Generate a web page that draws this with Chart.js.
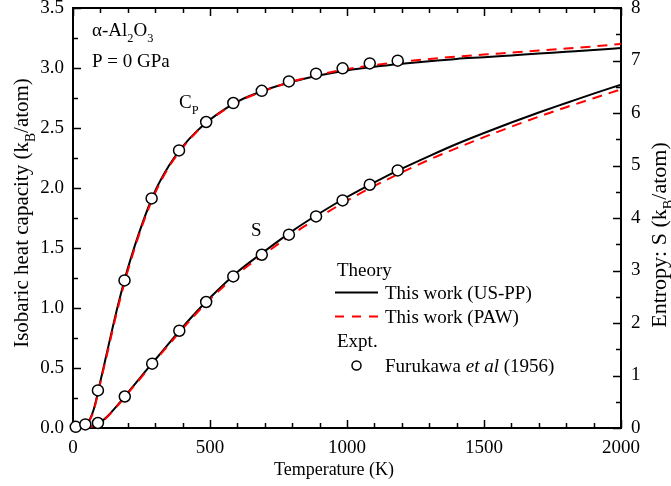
<!DOCTYPE html>
<html>
<head>
<meta charset="utf-8">
<script src="https://cdn.jsdelivr.net/npm/chart.js@4.4.1/dist/chart.umd.min.js"></script>
<style>
  html, body { margin: 0; padding: 0; background: #fff; }
  #wrap { width: 671px; height: 486px; position: relative; }
</style>
</head>
<body>
<div id="wrap"><canvas id="chart"></canvas></div>
<script>
// Theory curves (US-PP = black solid, PAW = red dashed)
const tempTheory = [0, 25, 50, 75, 100, 125, 150, 175, 200, 250, 300, 350, 400, 450, 500, 600, 700, 800, 900, 1000, 1100, 1200, 1300, 1400, 1500, 1600, 1700, 1800, 1900, 2000];
const cpUSPP = [0, 0.003, 0.03, 0.15, 0.39, 0.64, 0.89, 1.12, 1.33, 1.685, 1.975, 2.185, 2.345, 2.47, 2.57, 2.72, 2.815, 2.885, 2.94, 2.98, 3.01, 3.035, 3.057, 3.076, 3.09, 3.105, 3.12, 3.135, 3.15, 3.167];
const cpPAW  = [0, 0.003, 0.028, 0.14, 0.38, 0.62, 0.87, 1.10, 1.31, 1.67, 1.96, 2.175, 2.335, 2.465, 2.565, 2.715, 2.812, 2.887, 2.945, 2.99, 3.025, 3.052, 3.075, 3.095, 3.112, 3.128, 3.145, 3.162, 3.18, 3.20];
const sUSPP  = [0, 0.002, 0.012, 0.04, 0.11, 0.22, 0.36, 0.51, 0.67, 0.99, 1.30, 1.61, 1.92, 2.21, 2.48, 2.97, 3.37, 3.75, 4.09, 4.40, 4.68, 4.94, 5.18, 5.41, 5.62, 5.82, 6.01, 6.19, 6.37, 6.54];
const sPAW   = [0, 0.002, 0.011, 0.038, 0.105, 0.21, 0.35, 0.50, 0.66, 0.97, 1.28, 1.59, 1.89, 2.18, 2.45, 2.93, 3.32, 3.69, 4.02, 4.33, 4.61, 4.87, 5.11, 5.33, 5.54, 5.74, 5.93, 6.11, 6.28, 6.45];

// Furukawa et al (1956)
const cpExpT = [10, 45, 91, 188, 287, 387, 486, 585, 689, 788, 887, 984, 1083, 1185];
const cpExp  = [0.01, 0.03, 0.313, 1.23, 1.913, 2.313, 2.55, 2.708, 2.81, 2.888, 2.953, 2.997, 3.038, 3.061];
const sExpT  = [91, 189, 289, 388, 486, 585, 689, 788, 887, 984, 1083, 1185];
const sExp   = [0.095, 0.60, 1.225, 1.853, 2.40, 2.888, 3.30, 3.682, 4.03, 4.335, 4.634, 4.907];

// axis ticks
const xTicks = [0, 500, 1000, 1500, 2000];
const cpTicks = [0, 0.5, 1.0, 1.5, 2.0, 2.5, 3.0, 3.5];
const sTicks = [0, 1, 2, 3, 4, 5, 6, 7, 8];

const FONT = "'Liberation Serif', 'Times New Roman', serif";
const pts = (xs, ys) => xs.map((x, i) => ({ x, y: ys[i] }));

// text with sub / italic parts
function richWidth(ctx, parts, size) {
  let w = 0;
  parts.forEach(p => {
    ctx.font = `${p.it ? 'italic ' : ''}${p.sub ? size * 0.65 : size}px ${FONT}`;
    w += ctx.measureText(p.t).width;
  });
  return w;
}
function drawRich(ctx, parts, x, y, size) {
  let cx = x;
  ctx.textAlign = 'left';
  ctx.textBaseline = 'alphabetic';
  parts.forEach(p => {
    ctx.font = `${p.it ? 'italic ' : ''}${p.sub ? size * 0.65 : size}px ${FONT}`;
    ctx.fillText(p.t, cx, y + (p.sub ? size * 0.33 : 0));
    cx += ctx.measureText(p.t).width;
  });
}
function drawRotated(ctx, parts, cx, cy, size) {
  ctx.save();
  ctx.translate(cx, cy);
  ctx.rotate(-Math.PI / 2);
  const w = richWidth(ctx, parts, size);
  drawRich(ctx, parts, -w / 2, 0, size);
  ctx.restore();
}

const framePlugin = {
  id: 'frame',
  beforeDatasetsDraw(chart) {
    const { ctx, chartArea: a, scales } = chart;
    ctx.save();
    ctx.strokeStyle = '#000';
    ctx.lineWidth = 1.5;
    ctx.beginPath();
    // x ticks bottom + top
    for (let v = 0; v <= 2000; v += 100) {
      const px = Math.round(scales.x.getPixelForValue(v)) + 0.5;
      const len = v % 500 === 0 ? 8 : 5;
      ctx.moveTo(px, a.bottom); ctx.lineTo(px, a.bottom - len);
      ctx.moveTo(px, a.top); ctx.lineTo(px, a.top + len);
    }
    // left Cp ticks
    for (let i = 0; i <= 14; i++) {
      const py = Math.round(scales.y.getPixelForValue(i * 0.25)) + 0.5;
      const len = i % 2 === 0 ? 8 : 5;
      ctx.moveTo(a.left, py); ctx.lineTo(a.left + len, py);
    }
    // right S ticks
    for (let i = 0; i <= 16; i++) {
      const py = Math.round(scales.y2.getPixelForValue(i * 0.5)) + 0.5;
      const len = i % 2 === 0 ? 8 : 5;
      ctx.moveTo(a.right, py); ctx.lineTo(a.right - len, py);
    }
    ctx.stroke();
    ctx.lineWidth = 2;
    ctx.strokeRect(a.left, a.top, a.right - a.left, a.bottom - a.top);
    ctx.restore();
  },
  afterDraw(chart) {
    const { ctx } = chart;
    ctx.save();
    ctx.fillStyle = '#000';

    // axis titles
    ctx.font = `18px ${FONT}`;
    ctx.textAlign = 'center';
    ctx.textBaseline = 'alphabetic';
    ctx.fillText('Temperature (K)', 334, 475);
    drawRotated(ctx, [{ t: 'Isobaric heat capacity (k' }, { t: 'B', sub: true }, { t: '/atom)' }], 28, 213, 21);
    drawRotated(ctx, [{ t: 'Entropy: S (k' }, { t: 'B', sub: true }, { t: '/atom)' }], 666, 235, 22);

    // annotations
    drawRich(ctx, [{ t: 'α-Al' }, { t: '2', sub: true }, { t: 'O' }, { t: '3', sub: true }], 92, 36, 19);
    drawRich(ctx, [{ t: 'P = 0 GPa' }], 92, 66.5, 19);
    drawRich(ctx, [{ t: 'C' }, { t: 'P', sub: true }], 179, 108, 19);
    drawRich(ctx, [{ t: 'S' }], 251, 235.5, 19);

    // legend
    drawRich(ctx, [{ t: 'Theory' }], 337, 276, 19);
    ctx.strokeStyle = '#000';
    ctx.lineWidth = 2;
    ctx.beginPath(); ctx.moveTo(335, 292.5); ctx.lineTo(378, 292.5); ctx.stroke();
    drawRich(ctx, [{ t: 'This work (US-PP)' }], 385, 299, 19);
    ctx.strokeStyle = '#ff0000';
    ctx.setLineDash([9, 8]);
    ctx.beginPath(); ctx.moveTo(335, 316.5); ctx.lineTo(378, 316.5); ctx.stroke();
    ctx.setLineDash([]);
    drawRich(ctx, [{ t: 'This work (PAW)' }], 385, 323, 19);
    drawRich(ctx, [{ t: 'Expt.' }], 337, 347, 19);
    ctx.strokeStyle = '#000';
    ctx.lineWidth = 1.5;
    ctx.beginPath(); ctx.arc(356.5, 365.5, 4.5, 0, Math.PI * 2); ctx.stroke();
    drawRich(ctx, [{ t: 'Furukawa ' }, { t: 'et al', it: true }, { t: ' (1956)' }], 385, 371.5, 19);
    ctx.restore();
  }
};

const tickFont = { family: FONT, size: 19, lineHeight: 1 };
const noGrid = { display: false, drawTicks: false };

new Chart(document.getElementById('chart'), {
  type: 'line',
  data: {
    datasets: [
      { label: 'Expt. Cp', type: 'scatter', data: pts(cpExpT, cpExp), yAxisID: 'y', order: 0, clip: false,
        pointStyle: 'circle', pointRadius: 5.5, backgroundColor: '#fff', borderColor: '#000', borderWidth: 1.5 },
      { label: 'Expt. S', type: 'scatter', data: pts(sExpT, sExp), yAxisID: 'y2', order: 0, clip: false,
        pointStyle: 'circle', pointRadius: 5.5, backgroundColor: '#fff', borderColor: '#000', borderWidth: 1.5 },
      { label: 'PAW Cp', data: pts(tempTheory, cpPAW), yAxisID: 'y', order: 1,
        borderColor: '#ff0000', borderWidth: 2, borderDash: [10, 7], pointRadius: 0, cubicInterpolationMode: 'monotone' },
      { label: 'PAW S', data: pts(tempTheory, sPAW), yAxisID: 'y2', order: 1,
        borderColor: '#ff0000', borderWidth: 2, borderDash: [10, 7], pointRadius: 0, cubicInterpolationMode: 'monotone' },
      { label: 'US-PP Cp', data: pts(tempTheory, cpUSPP), yAxisID: 'y', order: 2,
        borderColor: '#000', borderWidth: 2, pointRadius: 0, cubicInterpolationMode: 'monotone' },
      { label: 'US-PP S', data: pts(tempTheory, sUSPP), yAxisID: 'y2', order: 2,
        borderColor: '#000', borderWidth: 2, pointRadius: 0, cubicInterpolationMode: 'monotone' }
    ]
  },
  options: {
    responsive: true,
    maintainAspectRatio: false,
    animation: false,
    layout: { padding: { top: 8 } },
    plugins: { legend: { display: false }, tooltip: { enabled: false } },
    scales: {
      x: {
        type: 'linear', min: 0, max: 2000,
        afterBuildTicks: s => { s.ticks = xTicks.map(v => ({ value: v })); },
        ticks: { color: '#000', font: tickFont, padding: 11, callback: v => String(v) },
        grid: noGrid, border: { display: false },
        afterFit: s => { s.height = 58; s.paddingLeft = 0; s.paddingRight = 0; }
      },
      y: {
        position: 'left', min: 0, max: 3.5,
        afterBuildTicks: s => { s.ticks = cpTicks.map(v => ({ value: v })); },
        ticks: { color: '#000', font: tickFont, padding: 9, callback: v => v.toFixed(1) },
        grid: noGrid, border: { display: false },
        afterFit: s => { s.width = 73; s.paddingTop = 0; s.paddingBottom = 0; }
      },
      y2: {
        position: 'right', min: 0, max: 8,
        afterBuildTicks: s => { s.ticks = sTicks.map(v => ({ value: v })); },
        ticks: { color: '#000', font: tickFont, padding: 10 },
        grid: noGrid, border: { display: false },
        afterFit: s => { s.width = 50; s.paddingTop = 0; s.paddingBottom = 0; }
      }
    }
  },
  plugins: [framePlugin]
});
</script>
</body>
</html>
